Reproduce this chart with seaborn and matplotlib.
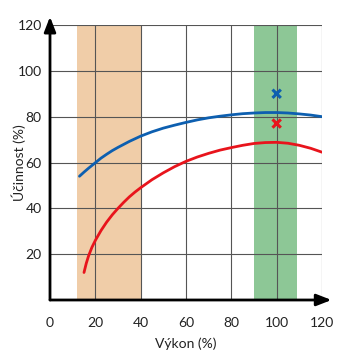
import matplotlib
matplotlib.use('Agg')
import matplotlib.pyplot as plt
import seaborn as sns
import pandas as pd

# values
blue_x = [13, 15, 17, 20, 22.5, 25, 27.5, 30, 35, 40, 45, 50, 55, 60, 65, 70, 75, 80,
          85, 90, 95, 100, 105, 110, 115, 120]
blue_y = [54, 55.8, 57.5, 59.9, 61.9, 63.6, 65.2, 66.6, 69.2, 71.5, 73.4, 75, 76.3, 77.5,
          78.6, 79.5, 80.2, 80.8, 81.3, 81.6, 81.8, 81.8, 81.6, 81.2, 80.7, 80]
red_x = [15, 16, 17, 18.5, 20, 22.5, 25, 27.5, 30, 32.5, 35, 37.5, 40, 45, 50, 55, 60,
         65, 70, 75, 80, 85, 90, 95, 100, 105, 110, 115, 120]
red_y = [12, 16, 19.2, 23, 26, 30.3, 34, 37.2, 40, 42.6, 45, 47.1, 49, 52.5, 55.5, 58.2,
         60.5, 62.4, 64, 65.4, 66.5, 67.5, 68.3, 68.7, 68.8, 68.4, 67.5, 66.2, 64.5]
point_x = [100, 100]
point_y = [90, 77]
point_series = ['blue', 'red']
orange_band = (12, 40)
green_band = (90, 109)
x_ticks = [0, 20, 40, 60, 80, 100, 120]
y_ticks = [20, 40, 60, 80, 100, 120]

BLUE = '#0d5fb0'
RED = '#e8141c'

sns.set_style('white')
plt.rcParams['font.family'] = ['Lato', 'DejaVu Sans']

fig = plt.figure(figsize=(3.58, 3.63), dpi=100)
ax = fig.add_axes([50 / 358, 1 - 300 / 363, 272 / 358, 275 / 363])

ax.axvspan(*orange_band, color='#f0cda8', lw=0, zorder=0)
ax.axvspan(*green_band, color='#8dc796', lw=0, zorder=0)

# grid
for x in x_ticks[1:]:
    ax.plot([x, x], [0, 120], color='#555555', lw=0.8, zorder=1)
for y in y_ticks:
    ax.plot([0, 120], [y, y], color='#555555', lw=0.8, zorder=1)

curves = pd.concat([
    pd.DataFrame({'x': blue_x, 'y': blue_y, 's': 'blue'}),
    pd.DataFrame({'x': red_x, 'y': red_y, 's': 'red'}),
])
sns.lineplot(data=curves, x='x', y='y', hue='s', palette={'blue': BLUE, 'red': RED},
             lw=2, legend=False, ax=ax, zorder=3)
pts = pd.DataFrame({'x': point_x, 'y': point_y, 's': point_series})
sns.scatterplot(data=pts, x='x', y='y', hue='s', palette={'blue': BLUE, 'red': RED},
                marker='x', s=36, linewidth=2.2, legend=False, ax=ax, zorder=4)

ax.set_xlim(0, 120)
ax.set_ylim(0, 120)
for sp in ax.spines.values():
    sp.set_visible(False)

# axis arrows
arrow = dict(arrowstyle='-|>,head_length=0.9,head_width=0.35', color='black', lw=2,
             shrinkA=0, shrinkB=0)
ax.annotate('', xy=(1.035, 0), xytext=(0, 0), xycoords='axes fraction',
            arrowprops=arrow, annotation_clip=False)
ax.annotate('', xy=(0, 1.03), xytext=(0, 0), xycoords='axes fraction',
            arrowprops=arrow, annotation_clip=False)

ax.set_xticks(x_ticks)
ax.set_yticks(y_ticks)
ax.tick_params(axis='x', length=0, pad=12, labelsize=10, colors='#222222')
ax.tick_params(axis='y', length=0, pad=6, labelsize=10, colors='#222222')
ax.set_xlabel('Výkon (%)', fontsize=10, color='#222222')
ax.set_ylabel('Účinnost (%)', fontsize=10, color='#222222')
ax.xaxis.set_label_coords(0.5, -0.135)
ax.yaxis.set_label_coords(-0.09, 0.5)

fig.savefig('out.png', dpi=100)
